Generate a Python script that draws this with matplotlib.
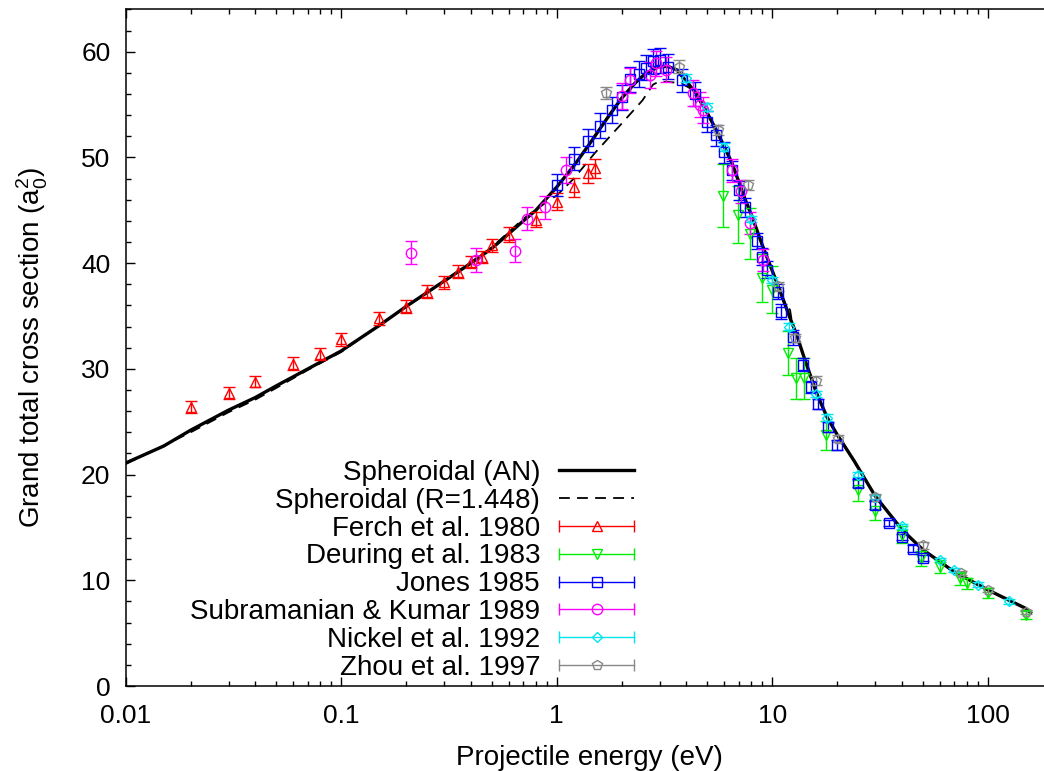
import numpy as np
import matplotlib
matplotlib.use('Agg')
import matplotlib.pyplot as plt
from matplotlib.lines import Line2D
from matplotlib.legend_handler import HandlerBase
from matplotlib.container import ErrorbarContainer
from matplotlib.ticker import MultipleLocator, FixedLocator, NullFormatter, FixedFormatter

plt.rcParams['font.family'] = ['Liberation Sans', 'DejaVu Sans']
plt.rcParams['mathtext.fontset'] = 'custom'
plt.rcParams['mathtext.rm'] = 'Liberation Sans'
plt.rcParams['mathtext.it'] = 'Liberation Sans'

# theory curves (energy in eV, cross section in a0^2)
an_E = [0.01, 0.015, 0.02, 0.03, 0.04, 0.05, 0.07, 0.1, 0.15, 0.2, 0.3, 0.4, 0.5, 0.6, 0.7, 0.8,
        1.0, 1.2, 1.4, 1.7, 2.0, 2.3, 2.6, 3.0, 3.3, 3.6, 4.0, 4.5, 5.0, 5.5, 6.0, 6.5, 7.0, 7.5,
        8.0, 9.0, 10, 11, 12, 13, 14, 16, 18, 20, 24, 30, 40, 50, 70, 100, 150, 158]
an_Y = [21.1, 22.7, 24.2, 26.1, 27.3, 28.4, 30.0, 31.7, 34.1, 35.9, 38.3, 40.0, 41.4, 42.8, 44.0, 45.0,
        47.2, 49.2, 51.1, 53.6, 55.6, 57.0, 58.0, 58.6, 58.6, 58.3, 57.2, 55.9, 54.2, 52.6, 51.0, 49.5, 47.7, 46.0,
        44.6, 41.7, 39.3, 37.1, 35.0, 33.2, 31.2, 27.8, 25.4, 23.8, 21.3, 18.0, 14.8, 12.9, 10.8, 9.1, 7.35, 6.95]

r_E = [0.01, 0.02, 0.03, 0.04, 0.05, 0.07, 0.1, 0.2, 0.3, 0.5, 0.7, 0.9, 1.0, 1.2, 1.5, 2.0, 2.5,
       2.8, 3.0, 3.5, 3.8, 4.2, 5.0, 5.5, 6.0, 6.5, 7.0, 7.5, 8.0, 9.0, 10, 11, 11.7, 12.1, 12.4,
       13, 14, 16, 18, 20, 24, 30, 40, 50, 70, 100, 150, 158]
r_Y = [21.0, 24.0, 25.9, 27.1, 28.2, 29.9, 31.6, 35.9, 38.3, 41.5, 44.2, 45.8, 46.4, 48.0, 50.4, 53.2, 55.4,
       56.9, 57.2, 57.1, 57.0, 56.5, 54.2, 52.6, 51.0, 49.5, 47.7, 46.0, 44.6, 41.7, 39.3, 37.1, 35.8, 35.6, 34.2,
       33.2, 31.2, 27.8, 25.4, 23.8, 21.3, 18.0, 14.8, 12.9, 10.8, 9.1, 7.35, 6.95]

# experiments
ferch_E = [0.02, 0.03, 0.04, 0.06, 0.08, 0.1, 0.15, 0.2, 0.25, 0.3, 0.35, 0.4, 0.45, 0.5, 0.6, 0.8, 1.0, 1.2, 1.4, 1.5]
ferch_Y = [26.4, 27.7, 28.8, 30.5, 31.4, 32.8, 34.8, 35.9, 37.3, 38.2, 39.2, 40.1, 40.6, 41.7, 42.7, 44.1, 45.8, 47.2, 48.5, 49.0]
ferch_err = [0.55, 0.55, 0.55, 0.6, 0.6, 0.6, 0.6, 0.6, 0.6, 0.6, 0.6, 0.6, 0.6, 0.6, 0.7, 0.7, 0.8, 0.9, 0.9, 0.9]

deuring_E = [5.9, 6.95, 7.9, 9.0, 10.0, 11.8, 12.9, 14.1, 17.8, 25, 30, 40, 49, 60, 74, 80, 100, 150]
deuring_Y = [46.4, 44.6, 42.8, 38.6, 37.5, 31.5, 29.1, 29.1, 23.7, 18.5, 16.6, 14.3, 12.1, 11.3, 10.2, 9.7, 8.8, 6.7]
deuring_err = [3.0, 2.7, 2.4, 2.3, 2.2, 2.1, 1.9, 1.9, 1.4, 1.0, 0.9, 0.8, 0.7, 0.6, 0.6, 0.5, 0.5, 0.4]

jones_E = [1.0, 1.2, 1.4, 1.58, 1.8, 2.0, 2.2, 2.4, 2.6, 2.8, 3.0, 3.3, 3.8, 4.4, 5.0, 5.5, 6.0, 6.5, 7.0,
           7.5, 8.5, 9.0, 9.5, 10.6, 11.0, 12.5, 13.9, 15.1, 16.3, 18.1, 20, 25, 30, 35, 40, 45, 50]
jones_Y = [47.4, 49.9, 51.6, 53.0, 54.5, 55.7, 57.4, 57.9, 58.5, 59.1, 59.2, 58.6, 57.3, 56.0, 53.4, 52.1, 50.5, 48.8, 46.9,
           45.3, 42.1, 40.6, 39.4, 37.3, 35.4, 33.0, 30.4, 28.3, 26.7, 24.5, 22.8, 19.2, 17.1, 15.4, 14.1, 13.0, 12.1]
jones_err = [1.0, 1.1, 1.1, 1.2, 1.2, 1.2, 1.2, 1.2, 1.2, 1.2, 1.2, 1.2, 1.1, 1.1, 1.0, 1.0, 1.0, 0.9, 0.9,
             0.9, 0.8, 0.8, 0.8, 0.7, 0.7, 0.7, 0.6, 0.6, 0.5, 0.5, 0.5, 0.4, 0.4, 0.3, 0.3, 0.3, 0.3]

subra_E = [0.21, 0.42, 0.64, 0.73, 0.88, 1.11, 2.0, 2.2, 2.7, 2.9, 3.2, 4.3, 4.6, 4.8, 6.5, 7.2, 7.9, 9.1]
subra_Y = [41.0, 40.3, 41.2, 44.2, 45.3, 48.8, 55.8, 57.3, 57.8, 58.9, 58.3, 56.1, 55.0, 54.5, 48.8, 46.8, 43.8, 40.3]
subra_err = [1.1, 1.1, 1.1, 1.1, 1.1, 1.2, 1.2, 1.2, 1.2, 1.2, 1.2, 1.2, 1.2, 1.2, 1.1, 1.1, 1.0, 1.0]

nickel_E = [4.0, 5.0, 6.0, 8.0, 10, 12, 16, 18, 25, 30, 40, 60, 70, 90, 125]
nickel_Y = [57.5, 54.8, 51.0, 44.2, 38.4, 34.0, 27.6, 25.4, 20.0, 17.9, 15.1, 11.9, 11.0, 9.6, 8.0]
nickel_err = [0.4, 0.4, 0.4, 0.3, 0.3, 0.3, 0.3, 0.3, 0.2, 0.2, 0.2, 0.2, 0.2, 0.2, 0.2]

zhou_E = [1.7, 3.7, 5.6, 7.7, 10.6, 12.7, 16, 20.3, 30, 50, 75, 100, 150]
zhou_Y = [56.1, 58.6, 52.6, 47.4, 37.8, 32.9, 28.9, 23.4, 17.9, 13.3, 10.7, 9.1, 7.0]
zhou_err = [0.6, 0.6, 0.5, 0.5, 0.4, 0.4, 0.4, 0.3, 0.3, 0.3, 0.2, 0.2, 0.2]


class HandlerGnu(HandlerBase):
    # gnuplot-like key sample: horizontal bar with end ticks and the point in the middle
    def create_artists(self, legend, orig, xd, yd, w, h, fs, trans):
        dl = orig.lines[0]
        c = dl.get_markeredgecolor()
        y = h / 2 - yd
        x0, x1 = -xd, -xd + w
        bar = Line2D([x0, x1], [y, y], color=c, lw=1.0)
        ends = Line2D([x0, x1], [y, y], ls='none', marker='|', ms=9, mew=1.0, mec=c)
        pt = Line2D([(x0 + x1) / 2], [y], ls='none', marker=dl.get_marker(), ms=dl.get_markersize(),
                    mfc='none', mec=c, mew=1.0)
        for a in (bar, ends, pt):
            a.set_transform(trans)
        return [bar, ends, pt]


fig = plt.figure(figsize=(10.44, 7.71), dpi=100)
ax = fig.add_axes([0.1204, 0.1102, 0.8878, 0.8775])

l1, = ax.plot(an_E, an_Y, color='black', lw=2.4, zorder=2, label='Spheroidal (AN)')
l2, = ax.plot(r_E, r_Y, color='black', lw=1.3, ls=(0, (6, 4)), zorder=2, label='Spheroidal (R=1.448)')

sets = [
    (ferch_E, ferch_Y, ferch_err, '#ff0000', '^', 7.5, 'Ferch et al. 1980'),
    (deuring_E, deuring_Y, deuring_err, '#00ee00', 'v', 7.5, 'Deuring et al. 1983'),
    (jones_E, jones_Y, jones_err, '#0000ff', 's', 7.0, 'Jones 1985'),
    (subra_E, subra_Y, subra_err, '#ff00ff', 'o', 7.5, 'Subramanian & Kumar 1989'),
    (nickel_E, nickel_Y, nickel_err, '#00e5ee', 'D', 5.5, 'Nickel et al. 1992'),
    (zhou_E, zhou_Y, zhou_err, '#888888', 'p', 7.0, 'Zhou et al. 1997'),
]
handles = [l1, l2]
for E, Y, err, c, m, ms, lab in sets:
    eb = ax.errorbar(E, Y, yerr=err, fmt=m, ms=ms, mfc='none', mec=c, mew=1.0, ecolor=c,
                     elinewidth=1.0, capsize=4, capthick=1.0, zorder=3, label=lab)
    handles.append(eb)

ax.set_xscale('log')
ax.set_xlim(0.01, 200)
ax.set_ylim(0, 64)
ax.set_xticks([0.01, 0.1, 1, 10, 100])
ax.xaxis.set_major_formatter(FixedFormatter(['0.01', '0.1', '1', '10', '100']))
ax.xaxis.set_minor_locator(FixedLocator([k * 10.0 ** d for d in range(-2, 3) for k in range(2, 10)]))
ax.xaxis.set_minor_formatter(NullFormatter())
ax.yaxis.set_major_locator(MultipleLocator(10))
ax.yaxis.set_minor_locator(MultipleLocator(2))

ax.tick_params(which='both', direction='in', top=True, right=True, width=1.0, labelsize=19)
ax.tick_params(which='major', length=6.5)
ax.tick_params(which='minor', length=3.5)
ax.tick_params(axis='x', pad=13)
ax.tick_params(axis='y', pad=11)
for s in ax.spines.values():
    s.set_linewidth(1.1)

ax.set_xlabel('Projectile energy (eV)', fontsize=20, labelpad=12)
ax.set_ylabel(r'Grand total cross section (a$_0^2$)', fontsize=20, labelpad=22)

leg = ax.legend(handles=handles, handler_map={ErrorbarContainer: HandlerGnu()},
                loc='upper right', bbox_to_anchor=(634 / 1044, 1 - 460 / 771),
                bbox_transform=fig.transFigure, frameon=False, fontsize=20,
                markerfirst=False, handlelength=2.7, handletextpad=0.68,
                labelspacing=0.065, borderpad=0, borderaxespad=0)

fig.savefig('out.png', dpi=100)
